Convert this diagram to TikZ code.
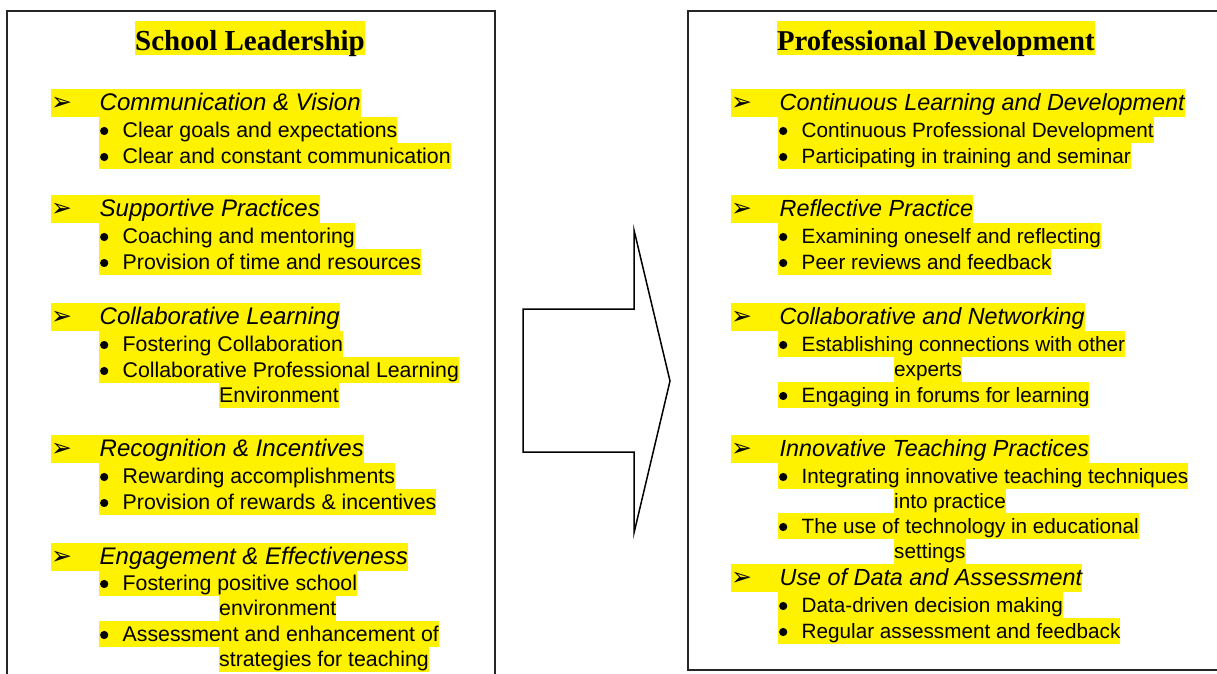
\documentclass[tikz,border=0pt]{standalone}
\usepackage{fontspec}
\setmainfont{Liberation Serif}
\setsansfont{Liberation Sans}
\newfontfamily\dingfont{DejaVu Sans}

\begin{document}
\begin{tikzpicture}[x=1pt, y=-1pt]
    \tikzstyle{frame} = [draw=black!85, line width=1.3pt]
    \tikzstyle{bigarrow} = [draw=black, line width=1.5pt, fill=white, line join=miter]
    \tikzstyle{hilite} = [fill=yellow, inner sep=0pt, anchor=north west]
    \tikzstyle{ttl} = [hilite, font=\rmfamily\bfseries\fontsize{\tsz}{34}\selectfont,
	text height=29pt, text depth=5pt]
    \tikzstyle{head} = [hilite, font=\sffamily\itshape\fontsize{\hsz}{28}\selectfont,
	text height=21pt, text depth=7pt,
	execute at begin node={\makebox[48.5pt][l]{\upshape\dingfont\fontsize{25}{20}\selectfont ➢}}]
    \tikzstyle{pnt} = [hilite, font=\sffamily\fontsize{\psz}{26}\selectfont,
	text height=20pt, text depth=6pt,
	execute at begin node={\makebox[23.5pt][l]{\tikz[baseline=0pt]{\path (0pt,0pt) (9pt,0pt);
		\fill[black] (5pt,6.2pt) circle (4.1pt);}}}]
    \tikzstyle{cont} = [hilite, font=\sffamily\fontsize{\psz}{26}\selectfont,
	text height=19pt, text depth=6pt]

    \useasboundingbox (0,0) rectangle (1217,674);
    \clip (0,0) rectangle (1217,674);

	% the two frames
	\draw[frame] (7,11) rectangle (495,690);
	\draw[frame] (688,11) rectangle (1230,670);

	% the big arrow between them
	\coordinate (tail top) at (523,309);
	\coordinate (tail bot) at (523,452);
	\coordinate (tip) at (670,381);
	\draw[bigarrow] (tail top) -- (634,309) -- (634,230) -- (tip)
		-- (634,533) -- (634,452) -- (tail bot) -- cycle;

	% left box
	\def\tsz{29}\def\hsz{24}\def\psz{21.3}
	\path
		node[ttl] (SL) at (135,21) {School Leadership}

		node[head] (L1) at (51,89) {Communication \& Vision}
		node[pnt] (L1a) at (99,117) {Clear goals and expectations}
		node[pnt] (L1b) at (99,143) {Clear and constant communication}

		node[head] (L2) at (51,195) {Supportive Practices}
		node[pnt] (L2a) at (99,223) {Coaching and mentoring}
		node[pnt] (L2b) at (99,249) {Provision of time and resources}

		node[head] (L3) at (51,303) {Collaborative Learning}
		node[pnt] (L3a) at (99,331) {Fostering Collaboration}
		node[pnt] (L3b) at (99,357) {Collaborative Professional Learning}
		node[cont] (L3c) at (219,383) {Environment}

		node[head] (L4) at (51,435) {Recognition \& Incentives}
		node[pnt] (L4a) at (99,463) {Rewarding accomplishments}
		node[pnt] (L4b) at (99,489) {Provision of rewards \& incentives}

		node[head] (L5) at (51,543) {Engagement \& Effectiveness}
		node[pnt] (L5a) at (99,570) {Fostering positive school}
		node[cont] (L5b) at (219,596) {environment}
		node[pnt] (L5c) at (99,621) {Assessment and enhancement of}
		node[cont] (L5d) at (219,647) {strategies for teaching}
	;

	% right box, set a touch smaller
	\def\tsz{28.7}\def\hsz{23.35}\def\psz{20.7}
	\path
		node[ttl] (PD) at (777,21) {Professional Development}

		node[head] (R1) at (731,89) {Continuous Learning and Development}
		node[pnt] (R1a) at (778,117) {Continuous Professional Development}
		node[pnt] (R1b) at (778,143) {Participating in training and seminar}

		node[head] (R2) at (731,195) {Reflective Practice}
		node[pnt] (R2a) at (778,223) {Examining oneself and reflecting}
		node[pnt] (R2b) at (778,249) {Peer reviews and feedback}

		node[head] (R3) at (731,303) {Collaborative and Networking}
		node[pnt] (R3a) at (778,331) {Establishing connections with other}
		node[cont] (R3b) at (894,357) {experts}
		node[pnt] (R3c) at (778,382) {Engaging in forums for learning}

		node[head] (R4) at (731,435) {Innovative Teaching Practices}
		node[pnt] (R4a) at (778,463) {Integrating innovative teaching techniques}
		node[cont] (R4b) at (894,489) {into practice}
		node[pnt] (R4c) at (778,513) {The use of technology in educational}
		node[cont] (R4d) at (894,539) {settings}

		node[head] (R5) at (731,564) {Use of Data and Assessment}
		node[pnt] (R5a) at (778,592) {Data-driven decision making}
		node[pnt] (R5b) at (778,618) {Regular assessment and feedback}
	;
\end{tikzpicture}
\end{document}
